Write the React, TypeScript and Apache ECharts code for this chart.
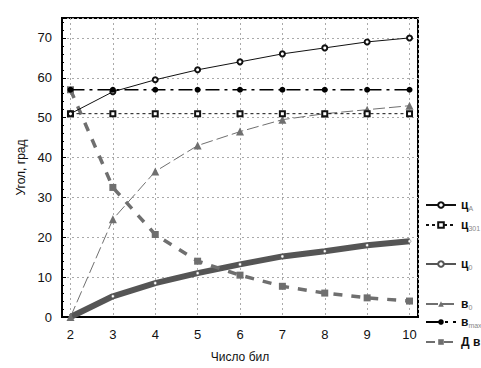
import React, { useEffect, useRef } from "react";
import * as echarts from "echarts";

const xs = [2, 3, 4, 5, 6, 7, 8, 9, 10];
const cA = [51, 56.5, 59.5, 62, 64, 66, 67.5, 69, 70];
const c301 = [51, 51, 51, 51, 51, 51, 51, 51, 51];
const c0 = [0, 5.2, 8.5, 11, 13.2, 15.2, 16.5, 18, 19];
const b0 = [0, 24.5, 36.5, 43, 46.5, 49.5, 51, 52, 53];
const bmax = [57, 57, 57, 57, 57, 57, 57, 57, 57];
const dB = [57, 32.5, 20.7, 14, 10.5, 7.7, 6, 4.8, 4];

const names = ["цA", "ц301", "ц0", "в0", "вmax", "Дв"];
const legendLabels: Record<string, string> = {
  цA: "{m|ц}{s|A}",
  ц301: "{m|ц}{s|301}",
  ц0: "{m|ц}{s|0}",
  в0: "{m|в}{s|0}",
  вmax: "{m|в}{s|max}",
  Дв: "{m|Д в}",
};
const legendTops = [199, 219, 258, 298, 316, 336];

const pair = (ys: number[]) => xs.map((x, i) => [x, ys[i]]);

export default function App() {
  const ref = useRef<HTMLDivElement>(null);
  useEffect(() => {
    document.body.style.margin = "0";
    const chart = echarts.init(ref.current!, null, { renderer: "svg" });
    const font = "Liberation Sans";
    const gray = "#6f6f6f";
    chart.setOption({
      animation: false,
      backgroundColor: "#fff",
      textStyle: { fontFamily: font },
      grid: {
        left: 62,
        top: 18,
        right: 63,
        bottom: 50,
        show: true,
        borderColor: "#000",
        borderWidth: 2,
      },
      legend: names.map((n, i) => ({
        data: [n],
        left: 425,
        top: legendTops[i],
        itemWidth: 30,
        itemHeight: 7,
        padding: 0,
        selectedMode: false,
        formatter: (name: string) => legendLabels[name],
        textStyle: {
          rich: {
            m: { fontSize: 12, fontWeight: "bold", color: "#111", fontFamily: font },
            s: { fontSize: 7, color: "#888", fontFamily: font, padding: [6, 0, 0, 0] },
          },
        },
      })),
      xAxis: {
        type: "value",
        min: 1.8,
        max: 10.2,
        splitNumber: 8,
        name: "Число бил",
        nameLocation: "middle",
        nameGap: 34,
        nameTextStyle: { fontSize: 12, color: "#111", fontFamily: font },
        axisLine: { lineStyle: { color: "#000", width: 2 } },
        axisTick: { show: false },
        axisLabel: {
          fontSize: 13,
          color: "#111",
          margin: 11,
          showMinLabel: false,
          showMaxLabel: false,
          formatter: (v: number) => (Math.abs(v - Math.round(v)) < 1e-6 ? String(Math.round(v)) : ""),
        },
        splitLine: { show: true, lineStyle: { color: "#aaa", type: [2, 3], width: 1 } },
      },
      yAxis: {
        type: "value",
        min: 0,
        max: 75,
        interval: 10,
        name: "Угол, град",
        nameLocation: "middle",
        nameGap: 34,
        nameRotate: 90,
        nameTextStyle: { fontSize: 12, color: "#111", fontFamily: font },
        axisLine: { show: true, lineStyle: { color: "#000", width: 2 } },
        axisTick: { show: true, inside: true, length: 4, lineStyle: { color: "#000" } },
        minorTick: { show: true, splitNumber: 5, length: 2, lineStyle: { color: "#000" } },
        axisLabel: {
          fontSize: 13,
          color: "#111",
          margin: 10,
          showMaxLabel: false,
          formatter: (v: number) => (v % 10 === 0 ? String(v) : ""),
        },
        splitLine: { show: true, lineStyle: { color: "#aaa", type: [2, 3], width: 1 } },
      },
      series: [
        {
          name: "цA",
          type: "line",
          data: pair(cA),
          symbol: "emptyCircle",
          symbolSize: 5,
          lineStyle: { color: "#111", width: 1 },
          itemStyle: { color: "#111", borderWidth: 1 },
          z: 5,
        },
        {
          name: "ц301",
          type: "line",
          data: pair(c301),
          symbol: "emptyRect",
          symbolSize: 5,
          lineStyle: { color: "#111", width: 1, type: [3, 3] },
          itemStyle: { color: "#111", borderWidth: 1 },
          z: 4,
        },
        {
          name: "ц0",
          type: "line",
          data: pair(c0),
          symbol: "circle",
          symbolSize: 3,
          lineStyle: { color: "#555", width: 6 },
          itemStyle: { color: "#fff", borderColor: "#555", borderWidth: 0.5 },
          z: 3,
        },
        {
          name: "в0",
          type: "line",
          data: pair(b0),
          symbol: "triangle",
          symbolSize: 8,
          lineStyle: { color: gray, width: 1, type: [12, 4] },
          itemStyle: { color: gray },
          z: 3,
        },
        {
          name: "вmax",
          type: "line",
          data: pair(bmax),
          symbol: "circle",
          symbolSize: 6,
          lineStyle: { color: "#000", width: 1.6, type: [14, 5, 3, 5] },
          itemStyle: { color: "#000" },
          z: 5,
        },
        {
          name: "Дв",
          type: "line",
          data: pair(dB),
          symbol: "rect",
          symbolSize: 7,
          lineStyle: { color: gray, width: 3.5, type: [9, 9] },
          itemStyle: { color: gray },
          z: 3,
        },
      ],
    });
    return () => chart.dispose();
  }, []);
  return <div ref={ref} style={{ width: 481, height: 368 }} />;
}
